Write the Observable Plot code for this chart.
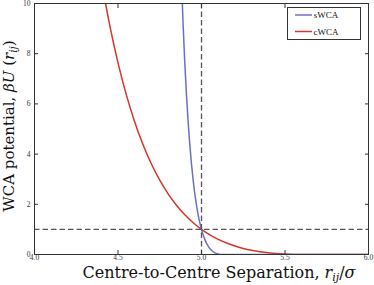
<!DOCTYPE html>
<html><head><meta charset="utf-8">
<script src="https://cdn.jsdelivr.net/npm/d3@7"></script>
<script src="https://cdn.jsdelivr.net/npm/@observablehq/plot@0.6"></script>
<style>body{margin:0;background:#fff}</style>
</head><body><div id="chart"></div>
<script>
// sWCA (blue) — separation r_ij/σ and potential βU
const sWCA_r = [4.88,4.89,4.90,4.91,4.92,4.93,4.94,4.95,4.96,4.97,4.98,4.99,5.00,5.01,5.02,5.03,5.04,5.05,5.06,5.07,5.08,5.09,5.10,5.11,5.1225,6.0];
const sWCA_U = [10.93,9.147,7.637,6.360,5.283,4.373,3.607,2.961,2.418,1.963,1.582,1.264,1.0,0.7816,0.6021,0.4556,0.3372,0.2424,0.1680,0.1107,0.0678,0.0371,0.0166,0.0048,0,0];
// cWCA (red)
const cWCA_r = [4.40,4.45,4.50,4.55,4.60,4.65,4.70,4.75,4.80,4.85,4.90,4.95,5.00,5.05,5.10,5.15,5.20,5.25,5.30,5.35,5.40,5.45,5.50,5.55,5.612,6.0];
const cWCA_U = [10.93,9.148,7.637,6.360,5.283,4.373,3.607,2.961,2.418,1.963,1.582,1.264,1.0,0.7816,0.6021,0.4556,0.3372,0.2424,0.1680,0.1107,0.0678,0.0371,0.0166,0.0048,0,0];
const seriesNames = ["sWCA","cWCA"];
const seriesColors = ["#6b70c6","#d5352a"];
const xTicks = [4.0,4.5,5.0,5.5,6.0];
const yTicks = [0,2,4,6,8,10];
const refX = [5.0];
const refY = [1.0];

const sData = sWCA_r.map((r,i)=>({r, U: sWCA_U[i]}));
const cData = cWCA_r.map((r,i)=>({r, U: cWCA_U[i]}));

const plot = Plot.plot({
  width: 374, height: 285,
  marginLeft: 34, marginRight: 6, marginTop: 3, marginBottom: 31,
  style: {fontFamily: "Liberation Serif", fontSize: "7.5px", background: "#fff"},
  x: {domain: [4, 6]},
  y: {domain: [0, 10]},
  marks: [
    Plot.line(cData, {x: "r", y: "U", stroke: seriesColors[1], strokeWidth: 1.5, curve: "monotone-x", clip: true}),
    Plot.line(sData, {x: "r", y: "U", stroke: seriesColors[0], strokeWidth: 1.5, curve: "monotone-x", clip: true}),
    Plot.ruleX(refX, {stroke: "#555", strokeWidth: 1.3, strokeDasharray: "5.5,3"}),
    Plot.ruleY(refY, {stroke: "#555", strokeWidth: 1.3, strokeDasharray: "5.5,3"}),
    Plot.axisX({anchor: "bottom", ticks: xTicks, tickFormat: d3.format(".1f"), tickSize: -4, tickPadding: 4.5, label: null, stroke: "#333", fill: "#333"}),
    Plot.axisX({anchor: "top", ticks: xTicks, tickFormat: () => "", tickSize: -4, label: null, stroke: "#333"}),
    Plot.axisY({anchor: "left", ticks: yTicks, tickFormat: d3.format("d"), tickSize: -4, tickPadding: 8, label: null, stroke: "#333", fill: "#333"}),
    Plot.axisY({anchor: "right", ticks: yTicks, tickFormat: () => "", tickSize: -4, label: null, stroke: "#333"}),
    Plot.frame({stroke: "#333", strokeWidth: 1})
  ]
});

const svg = d3.select(plot);
// x label
const xl = svg.append("text").attr("x", 219).attr("y", 277.5).attr("text-anchor", "middle")
  .attr("font-family", "DejaVu Serif").attr("font-size", 16).attr("fill", "#111");
xl.append("tspan").text("Centre-to-Centre Separation, ");
xl.append("tspan").attr("font-style", "italic").text("r");
xl.append("tspan").attr("font-style", "italic").attr("font-size", 11).attr("dy", 3).text("ij");
xl.append("tspan").attr("dy", -3).text("/");
xl.append("tspan").attr("font-style", "italic").text("σ");
// y label
const yl = svg.append("text").attr("transform", "translate(14,126) rotate(-90)").attr("text-anchor", "middle")
  .attr("font-family", "DejaVu Serif").attr("font-size", 15).attr("fill", "#111");
yl.append("tspan").text("WCA potential, ");
yl.append("tspan").attr("font-style", "italic").text("βU");
yl.append("tspan").text(" (");
yl.append("tspan").attr("font-style", "italic").text("r");
yl.append("tspan").attr("font-style", "italic").attr("font-size", 10.5).attr("dy", 3).text("ij");
yl.append("tspan").attr("dy", -3).text(")");
// legend
const lg = svg.append("g");
lg.append("rect").attr("x", 287.5).attr("y", 7.5).attr("width", 73).attr("height", 32)
  .attr("fill", "#fff").attr("stroke", "#333").attr("stroke-width", 1);
seriesNames.forEach((name, i) => {
  const y = 15 + i * 16.5;
  lg.append("line").attr("x1", 295).attr("x2", 312).attr("y1", y).attr("y2", y)
    .attr("stroke", seriesColors[i]).attr("stroke-width", 1.5);
  lg.append("text").attr("x", 326).attr("y", y).attr("dy", "0.35em")
    .attr("font-family", "Liberation Serif").attr("font-size", 9).attr("fill", "#111").text(name);
});
document.getElementById("chart").appendChild(plot);
</script>
</body></html>
